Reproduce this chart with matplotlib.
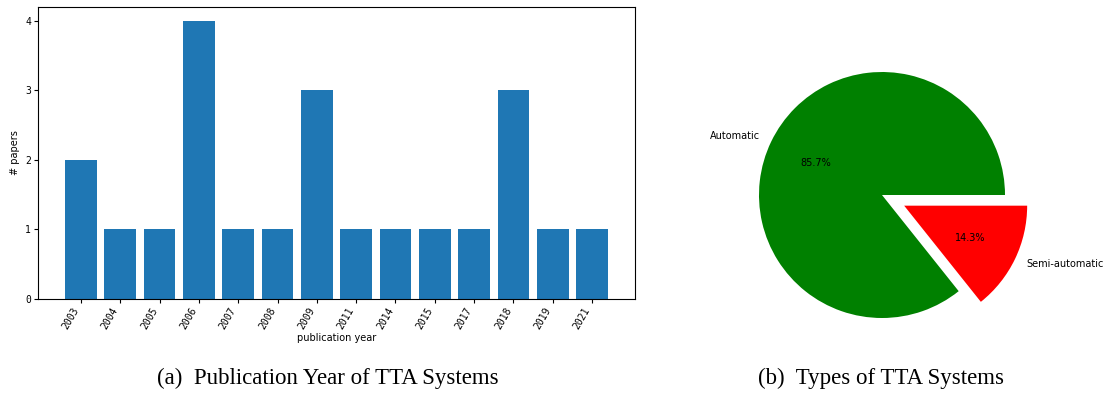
import matplotlib.pyplot as plt

years = ['2003', '2004', '2005', '2006', '2007', '2008', '2009',
         '2011', '2014', '2015', '2017', '2018', '2019', '2021']
papers = [2, 1, 1, 4, 1, 1, 3, 1, 1, 1, 1, 3, 1, 1]

types = ['Automatic', 'Semi-automatic']
type_counts = [12, 2]
type_colors = ['green', 'red']

W, H = 1104, 394
fig = plt.figure(figsize=(W / 100, H / 100), dpi=100)

# bar chart of publication years
ax = fig.add_axes([38 / W, (H - 299) / H, (635 - 38) / W, (299 - 7) / H])
ax.bar(years, papers, color='#1f77b4')
ax.set_yticks([0, 1, 2, 3, 4])
ax.set_ylabel('# papers', fontsize=7)
ax.set_xlabel('publication year', fontsize=7, labelpad=1)
for lab in ax.get_xticklabels():
    lab.set_rotation(60)
    lab.set_ha('right')
    lab.set_family('DejaVu Sans Mono')
    lab.set_fontsize(7)
for lab in ax.get_yticklabels():
    lab.set_family('DejaVu Sans Mono')
    lab.set_fontsize(7)
ax.tick_params(length=3, pad=2)

# pie chart of system types
r = 123
s = 320
ax2 = fig.add_axes([(882 - s / 2) / W, (H - 195 - s / 2) / H, s / W, s / H])
ax2.pie(type_counts, labels=types, colors=type_colors, explode=[0, 0.2],
        autopct='%1.1f%%', textprops={'fontsize': 7})
lim = s / 2 / r
ax2.set_xlim(-lim, lim)
ax2.set_ylim(-lim, lim)
ax2.set_aspect('equal')
ax2.axis('off')

fig.text(328 / W, 1 - 378 / H, '(a)  Publication Year of TTA Systems',
         family='Liberation Serif', fontsize=16.5, ha='center', va='center')
fig.text(881 / W, 1 - 378 / H, '(b)  Types of TTA Systems',
         family='Liberation Serif', fontsize=16.5, ha='center', va='center')

fig.savefig('out.png', dpi=100)
